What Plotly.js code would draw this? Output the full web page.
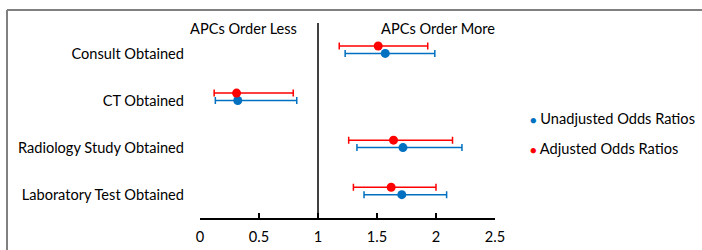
<!DOCTYPE html>
<html>
<head>
<meta charset="utf-8">
<script src="https://cdn.plot.ly/plotly-3.0.1.min.js"></script>
<style>html,body{margin:0;padding:0;background:#fff;}#chart{width:702px;height:250px;}</style>
</head>
<body>
<div id="chart"></div>
<script>
// Categories (top to bottom)
const categories = ["Consult Obtained", "CT Obtained", "Radiology Study Obtained", "Laboratory Test Obtained"];
const catPos = [4, 3, 2, 1];

// Unadjusted odds ratios with 95% CI
const unadjOR    = [1.57, 0.32, 1.72, 1.71];
const unadjLower = [1.23, 0.13, 1.33, 1.39];
const unadjUpper = [1.99, 0.82, 2.22, 2.09];

// Adjusted odds ratios with 95% CI
const adjOR    = [1.51, 0.31, 1.64, 1.62];
const adjLower = [1.18, 0.12, 1.26, 1.30];
const adjUpper = [1.93, 0.79, 2.14, 2.00];

const xTicks = [0, 0.5, 1, 1.5, 2, 2.5];
const xTickText = ["0", "0.5", "1", "1.5", "2", "2.5"];

const seriesNames = ["Unadjusted Odds Ratios", "Adjusted Odds Ratios"];
const BLUE = "#0070C0", RED = "#FF0000";
const FONT = "Lato, 'Open Sans', sans-serif";
const FS = 14.6;

const redOffset = 0.157;

const traces = [
  {
    type: "scatter", mode: "markers", name: seriesNames[0],
    x: unadjOR, y: catPos,
    marker: {color: BLUE, size: 9},
    error_x: {type: "data", symmetric: false,
      array: unadjOR.map((v, i) => unadjUpper[i] - v),
      arrayminus: unadjOR.map((v, i) => v - unadjLower[i]),
      color: BLUE, thickness: 1.5, width: 3.5},
    showlegend: false, hoverinfo: "x"
  },
  {
    type: "scatter", mode: "markers", name: seriesNames[1],
    x: adjOR, y: catPos.map(p => p + redOffset),
    marker: {color: RED, size: 9},
    error_x: {type: "data", symmetric: false,
      array: adjOR.map((v, i) => adjUpper[i] - v),
      arrayminus: adjOR.map((v, i) => v - adjLower[i]),
      color: RED, thickness: 1.5, width: 3.5},
    showlegend: false, hoverinfo: "x"
  }
];

// plot area: x 200..495 px, y 20..218 px
const L = 200, R = 495, T = 20, B = 218;
const px = p => (p - L) / (R - L);
const py = p => (B - p) / (B - T);

const layout = {
  width: 702, height: 250,
  margin: {l: L, r: 702 - R, t: T, b: 250 - B, pad: 0},
  paper_bgcolor: "#fff", plot_bgcolor: "#fff",
  font: {family: FONT, size: FS, color: "#000"},
  showlegend: false,
  xaxis: {
    range: [0, 2.5], tickvals: xTicks, ticktext: xTickText,
    showgrid: false, zeroline: false,
    showline: true, linecolor: "#000", linewidth: 1.5,
    ticks: "inside", ticklen: 5, tickwidth: 1.5, tickcolor: "#000",
    ticklabelstandoff: 5,
    tickfont: {family: FONT, size: FS, color: "#000"},
    fixedrange: true
  },
  yaxis: {
    range: [0.505, 4.709], tickvals: catPos, ticktext: categories,
    showgrid: false, zeroline: false, showline: false, ticks: "",
    ticklabelstandoff: 15,
    tickfont: {family: FONT, size: FS, color: "#000"},
    fixedrange: true
  },
  shapes: [
    {type: "line", xref: "x", yref: "y", x0: 1, x1: 1, y0: 0.505, y1: 4.645,
     line: {color: "#000", width: 1.5}},
    {type: "line", xref: "paper", yref: "paper", x0: px(7), x1: px(7), y0: py(250), y1: py(10),
     line: {color: "#808080", width: 2}},
    {type: "line", xref: "paper", yref: "paper", x0: px(7), x1: px(702), y0: py(10), y1: py(10),
     line: {color: "#808080", width: 2}}
  ],
  annotations: [
    {xref: "x", yref: "paper", x: 0.836, y: py(28), xanchor: "right", yanchor: "middle",
     text: "APCs Order Less", showarrow: false, font: {family: FONT, size: FS, color: "#000"}},
    {xref: "x", yref: "paper", x: 2.016, y: py(28), xanchor: "center", yanchor: "middle",
     text: "APCs Order More", showarrow: false, font: {family: FONT, size: FS, color: "#000"}},
    {xref: "paper", yref: "paper", x: px(527.5), y: py(118), xanchor: "left", yanchor: "middle",
     text: '<span style="color:' + BLUE + ';font-size:11px">●</span> ' + seriesNames[0],
     showarrow: false, font: {family: FONT, size: FS, color: "#000"}},
    {xref: "paper", yref: "paper", x: px(527.5), y: py(148), xanchor: "left", yanchor: "middle",
     text: '<span style="color:' + RED + ';font-size:11px">●</span> ' + seriesNames[1],
     showarrow: false, font: {family: FONT, size: FS, color: "#000"}}
  ]
};

Plotly.newPlot("chart", traces, layout, {displayModeBar: false, staticPlot: true});
</script>
</body>
</html>
